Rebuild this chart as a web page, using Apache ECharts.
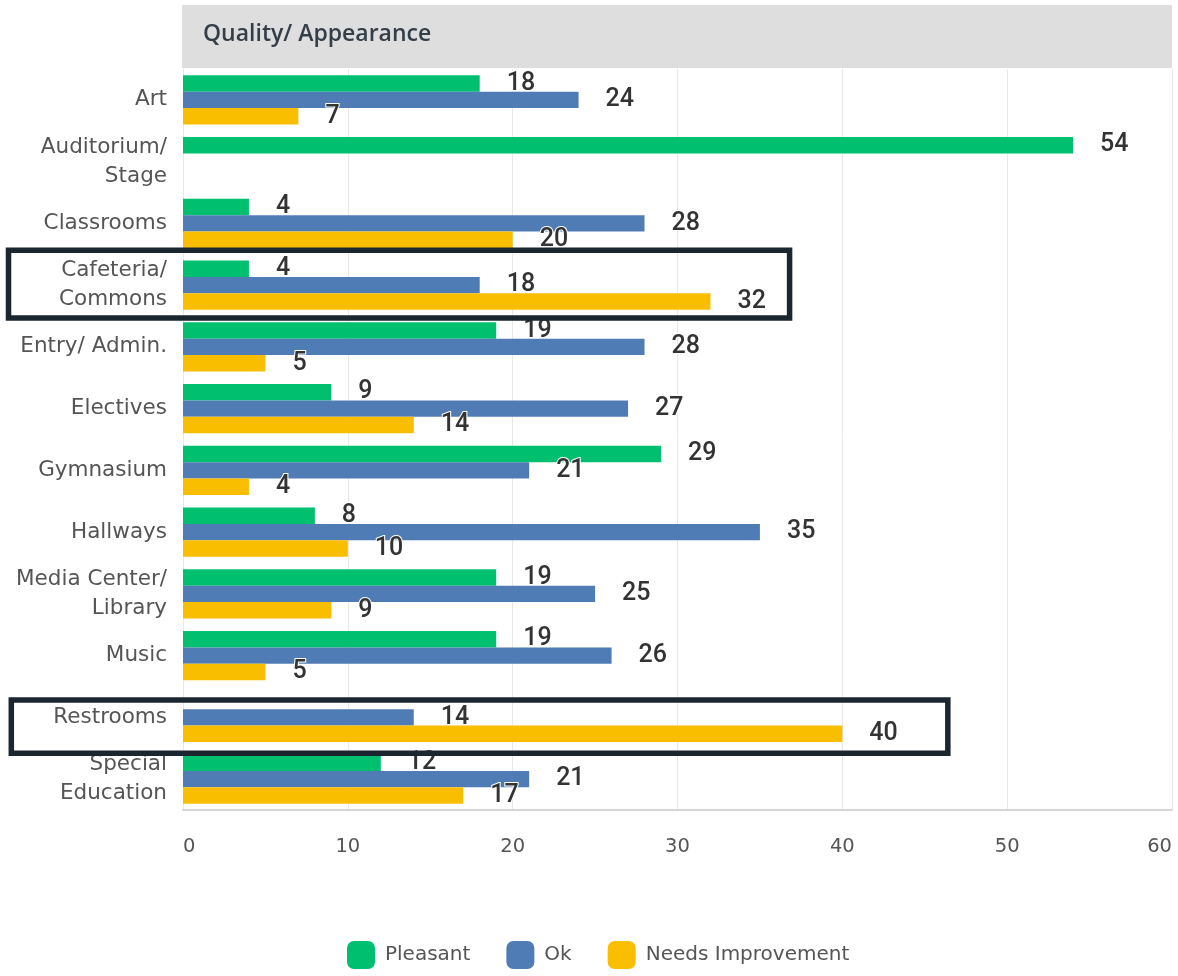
<!DOCTYPE html>
<html>
<head>
<meta charset="utf-8">
<script src="https://cdn.jsdelivr.net/npm/echarts@6/dist/echarts.min.js"></script>
<style>
html,body{margin:0;padding:0;background:#fff;}
#chart{width:1178px;height:976px;}
</style>
</head>
<body>
<div id="chart"></div>
<script>
const categories = ['Art', 'Auditorium/\nStage', 'Classrooms', 'Cafeteria/\nCommons', 'Entry/ Admin.', 'Electives', 'Gymnasium', 'Hallways', 'Media Center/\nLibrary', 'Music', 'Restrooms', 'Special\nEducation'];
const pleasant = [18, 54, 4, 4, 19, 9, 29, 8, 19, 19, null, 12];
const ok = [24, null, 28, 18, 28, 27, 21, 35, 25, 26, 14, 21];
const needsImprovement = [7, null, 20, 32, 5, 14, 4, 10, 9, 5, 40, 17];
const xTicks = [0, 10, 20, 30, 40, 50, 60];
const seriesNames = ['Pleasant', 'Ok', 'Needs Improvement'];
const sectionTitle = 'Quality/ Appearance';
// highlighted (boxed) categories and the value where each box ends
const highlightCats = ['Cafeteria/\nCommons', 'Restrooms'];
const highlightEnds = [36.8, 46.4];

const colors = ['#00BF6F', '#507CB6', '#F9BE00'];
const FONT = '"DejaVu Sans", "Noto Sans", sans-serif';
const TITLEFONT = '"Open Sans", "Noto Sans", sans-serif';
const NUMFONT = 'Roboto, "Noto Sans", sans-serif';

const chart = echarts.init(document.getElementById('chart'), null, {renderer: 'canvas'});

function makeSeries(name, data, color) {
  return {
    name: name,
    type: 'bar',
    data: data,
    barCategoryGap: '20%',
    barGap: '0%',
    itemStyle: {color: color},
    label: {
      show: true,
      position: 'right',
      distance: 27,
      fontFamily: NUMFONT,
      fontSize: 25,
      fontWeight: 500,
      color: '#333',
      textBorderColor: '#fff',
      textBorderWidth: 2
    },
    emphasis: {disabled: true}
  };
}

const option = {
  animation: false,
  backgroundColor: '#fff',
  textStyle: {fontFamily: FONT},
  grid: {left: 183, right: 6, top: 69, bottom: 166, containLabel: false},
  graphic: [{
    type: 'rect',
    z: -10,
    shape: {x: 182, y: 5, width: 990, height: 63},
    style: {fill: '#dedede'}
  }, {
    type: 'text',
    z: 10,
    style: {x: 203, y: 34, text: sectionTitle, fontFamily: TITLEFONT, fontSize: 23, fontWeight: 600, fill: '#333e48', textVerticalAlign: 'middle'}
  }],
  legend: {
    bottom: 2,
    left: 342,
    itemWidth: 28,
    itemHeight: 28,
    itemGap: 36,
    icon: 'roundRect',
    textStyle: {fontFamily: FONT, fontSize: 20, color: '#555', padding: [0, 0, 0, 5]},
    data: seriesNames
  },
  xAxis: {
    type: 'value',
    min: xTicks[0],
    max: xTicks[xTicks.length - 1],
    interval: xTicks[1] - xTicks[0],
    axisLine: {show: true, lineStyle: {color: '#d6d6d6', width: 2}},
    axisTick: {show: false},
    splitLine: {show: true, lineStyle: {color: '#e8e8e8', width: 1}},
    axisLabel: {
      fontFamily: FONT, fontSize: 19.5, color: '#555', margin: 27,
      alignMinLabel: 'left', alignMaxLabel: 'right'
    }
  },
  yAxis: {
    type: 'category',
    data: categories,
    inverse: true,
    axisLine: {show: false},
    axisTick: {show: false},
    splitLine: {show: false},
    axisLabel: {fontFamily: FONT, fontSize: 21.5, lineHeight: 29, color: '#555', margin: 16, align: 'right'}
  },
  series: [
    makeSeries(seriesNames[0], pleasant, colors[0]),
    makeSeries(seriesNames[1], ok, colors[1]),
    makeSeries(seriesNames[2], needsImprovement, colors[2])
  ]
};
chart.setOption(option);

// annotation boxes positioned through the axes
const yAx = chart.getModel().getComponent('yAxis', 0).axis;
const band = yAx.getBandWidth();
const boxTopOff = [-4, 13.5];
const boxBotOff = [2, 5];
const boxLeft = [8.5, 11.3];
const boxes = highlightCats.map(function (cat, i) {
  const cy = chart.convertToPixel({yAxisIndex: 0}, cat);
  const xr = chart.convertToPixel({xAxisIndex: 0}, highlightEnds[i]);
  const top = cy - band / 2 + boxTopOff[i];
  const bot = cy + band / 2 + boxBotOff[i];
  return {
    type: 'rect',
    z: 100,
    shape: {x: boxLeft[i], y: top, width: xr - boxLeft[i], height: bot - top},
    style: {fill: 'none', stroke: '#1b2631', lineWidth: 5.5}
  };
});
const x0 = chart.convertToPixel({xAxisIndex: 0}, xTicks[0]);
const x1 = chart.convertToPixel({xAxisIndex: 0}, xTicks[xTicks.length - 1]);
option.graphic[0].shape.x = x0 - 1;
option.graphic[0].shape.width = x1 - x0 + 1;
chart.setOption({graphic: option.graphic.concat(boxes)});
</script>
</body>
</html>
